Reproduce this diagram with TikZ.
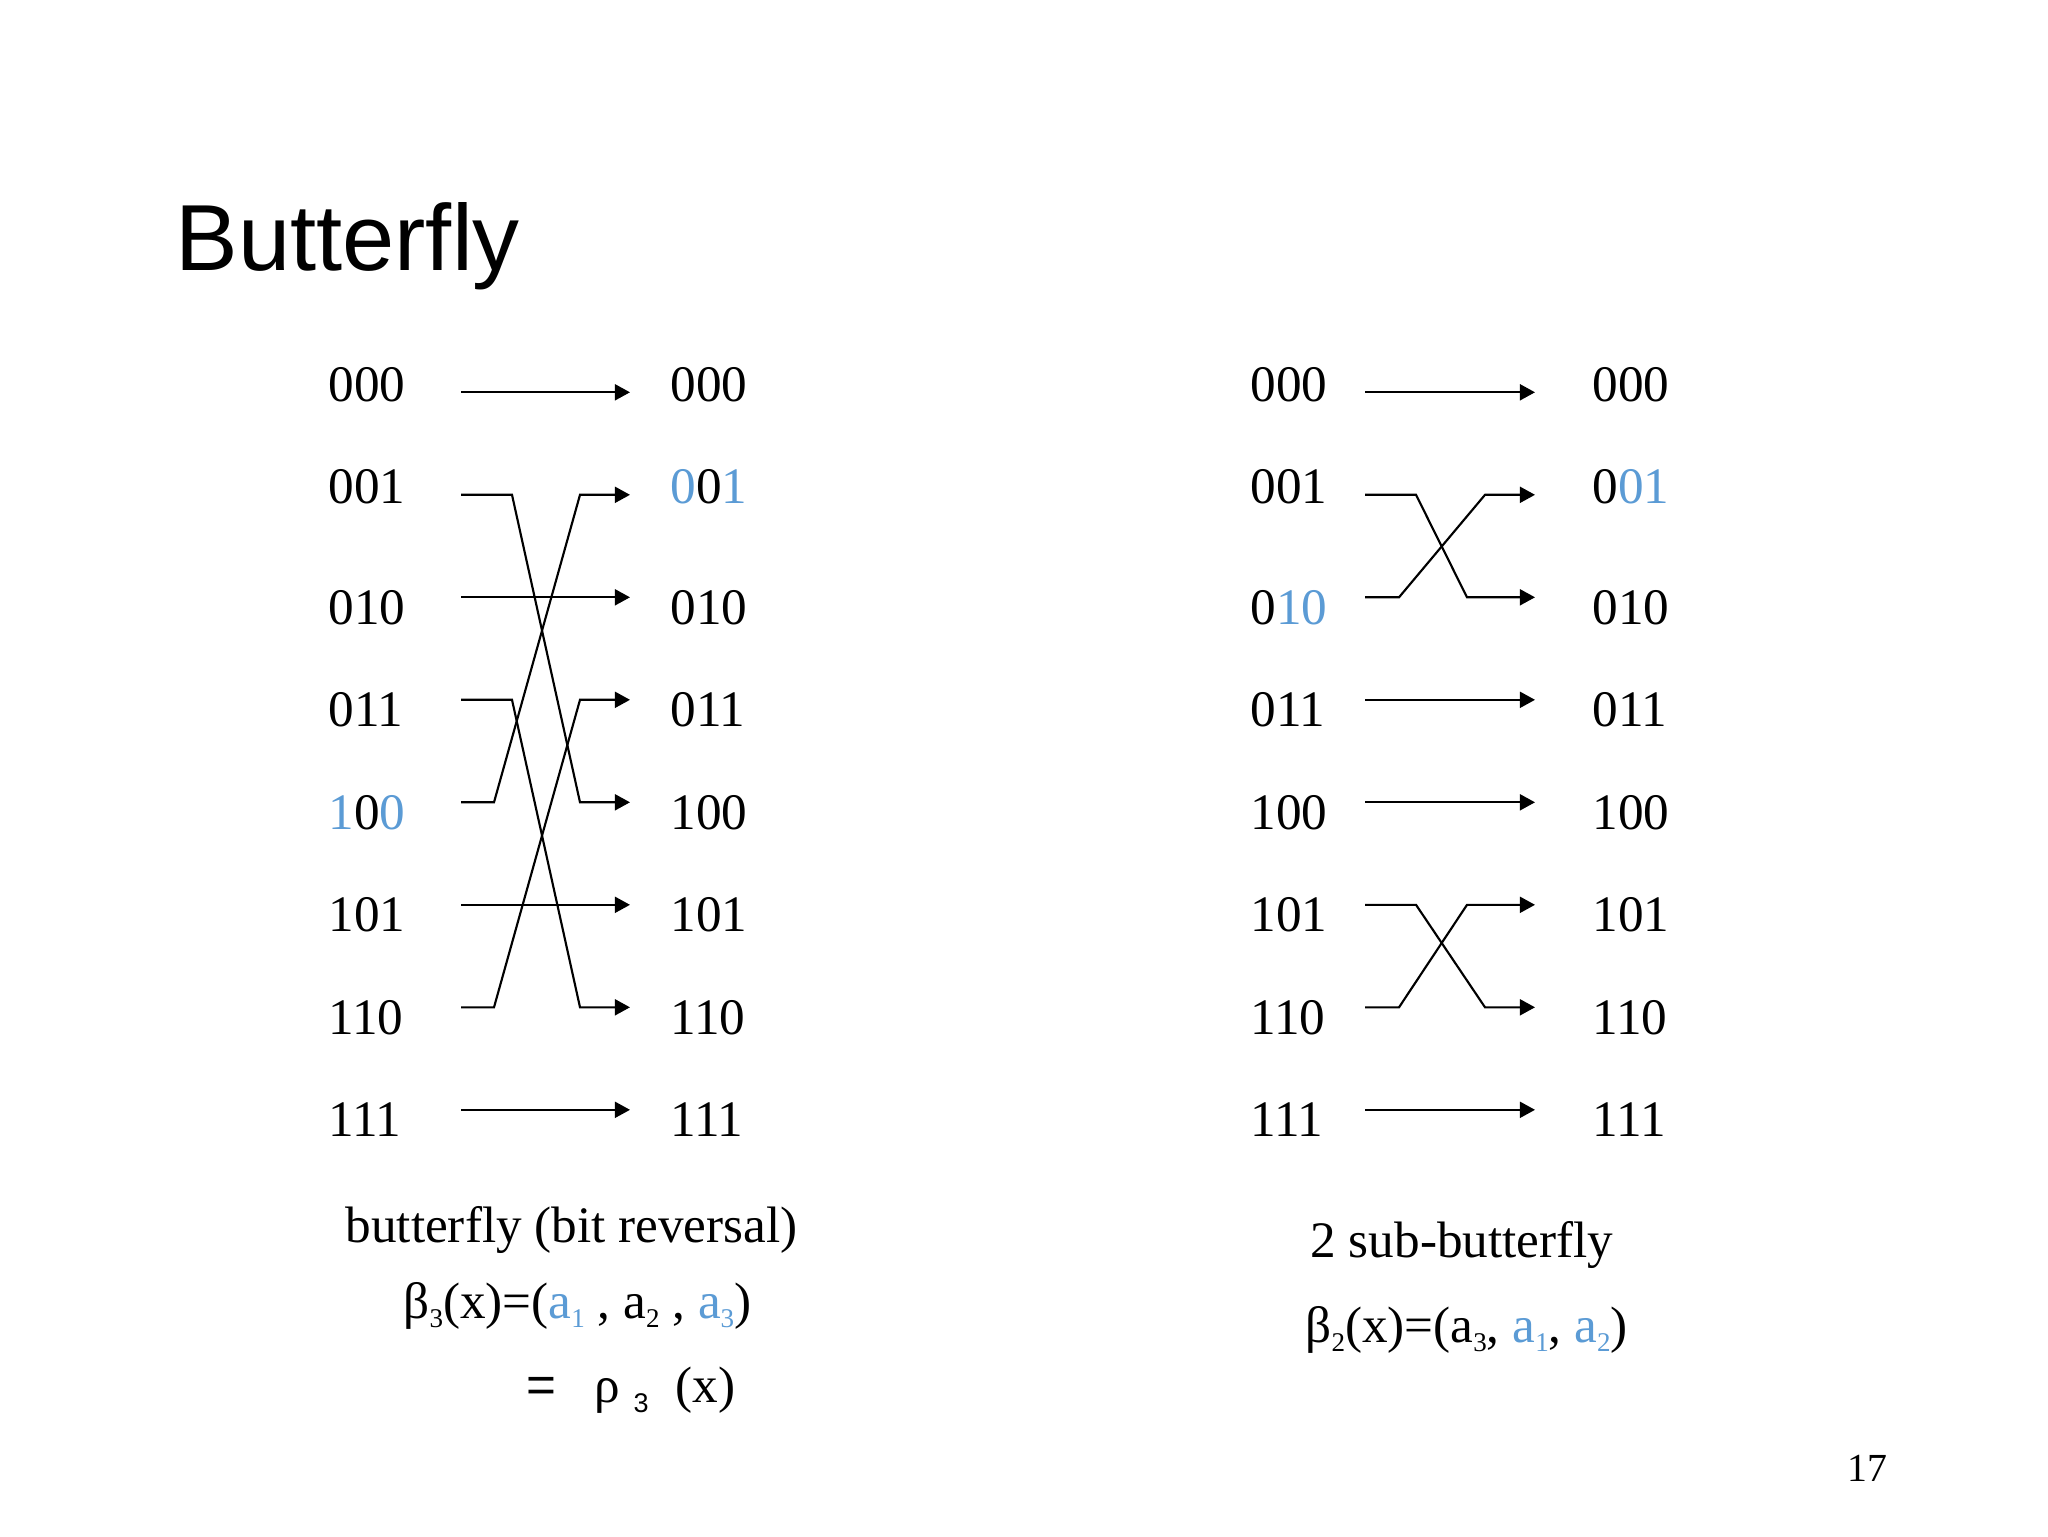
\documentclass[tikz,border=0pt]{standalone}
\usepackage{fontspec}
\setmainfont{Liberation Serif}
\newfontfamily\sansf{Liberation Sans}
\usetikzlibrary{arrows.meta}
\definecolor{hl}{HTML}{5B9BD5}
\newcommand\lsub[1]{\raisebox{-3.3pt}{\fontsize{9.5pt}{9.5pt}\selectfont #1}}
\newcommand\hb[1]{\textcolor{hl}{#1}}
\begin{document}
\begin{tikzpicture}[x=0.3516pt,y=-0.3516pt,
  lab/.style={anchor=base west, inner sep=0pt, font=\fontsize{18pt}{18pt}\selectfont},
  wire/.style={line width=0.75pt, -{Triangle[length=5.3pt,width=5.6pt]}}]
\useasboundingbox[fill=white] (0,0) rectangle (2048,1536);

% title and page number
\node[anchor=base west, inner sep=0pt, font=\sansf\fontsize{33pt}{33pt}\selectfont] (title) at (175,270) {Butterfly};
\node[anchor=base east, inner sep=0pt, font=\fontsize{14pt}{14pt}\selectfont] (page) at (1888,1481) {17};

% ---------- left network ----------
\foreach \i/\t in {0/000,1/001,2/010,3/011,4/{\hb{1}0\hb{0}},5/101,6/110,7/111} {
  \pgfmathsetmacro\yy{392.3+102.5*\i}
  \pgfmathsetmacro\off{\i<2 ? 9 : 27}
  \node[lab] (La\i) at (328,\yy+\off) {\t};
  \coordinate (Lai\i) at (461,\yy);
}
\foreach \i/\t in {0/000,1/{\hb{0}0\hb{1}},2/010,3/011,4/100,5/101,6/110,7/111} {
  \pgfmathsetmacro\yy{392.3+102.5*\i}
  \pgfmathsetmacro\off{\i<2 ? 9 : 27}
  \node[lab] (Lb\i) at (670,\yy+\off) {\t};
  \coordinate (Lbo\i) at (630,\yy);
}
\coordinate (xA) at (512,0);
\coordinate (xB) at (494,0);
\coordinate (xC) at (580,0);
\foreach \i in {0,2,5,7} \draw[wire] (Lai\i) -- (Lbo\i);
\draw[wire] (Lai1) -- (Lai1 -| xA) -- (Lbo4 -| xC) -- (Lbo4);
\draw[wire] (Lai3) -- (Lai3 -| xA) -- (Lbo6 -| xC) -- (Lbo6);
\draw[wire] (Lai4) -- (Lai4 -| xB) -- (Lbo1 -| xC) -- (Lbo1);
\draw[wire] (Lai6) -- (Lai6 -| xB) -- (Lbo3 -| xC) -- (Lbo3);

% ---------- right network ----------
\foreach \i/\t in {0/000,1/001,2/{0\hb{10}},3/011,4/100,5/101,6/110,7/111} {
  \pgfmathsetmacro\yy{392.3+102.5*\i}
  \pgfmathsetmacro\off{\i<2 ? 9 : 27}
  \node[lab] (Ra\i) at (1250,\yy+\off) {\t};
  \coordinate (Rai\i) at (1365,\yy);
}
\foreach \i/\t in {0/000,1/{0\hb{01}},2/010,3/011,4/100,5/101,6/110,7/111} {
  \pgfmathsetmacro\yy{392.3+102.5*\i}
  \pgfmathsetmacro\off{\i<2 ? 9 : 27}
  \node[lab] (Rb\i) at (1592,\yy+\off) {\t};
  \coordinate (Rbo\i) at (1535,\yy);
}
\coordinate (xD) at (1416,0);
\coordinate (xE) at (1399,0);
\coordinate (xF) at (1467,0);
\coordinate (xG) at (1485,0);
\foreach \i in {0,3,4,7} \draw[wire] (Rai\i) -- (Rbo\i);
\draw[wire] (Rai1) -- (Rai1 -| xD) -- (Rbo2 -| xF) -- (Rbo2);
\draw[wire] (Rai2) -- (Rai2 -| xE) -- (Rbo1 -| xG) -- (Rbo1);
\draw[wire] (Rai5) -- (Rai5 -| xD) -- (Rbo6 -| xG) -- (Rbo6);
\draw[wire] (Rai6) -- (Rai6 -| xE) -- (Rbo5 -| xF) -- (Rbo5);

% ---------- captions ----------
\node[lab] (capL) at (345,1242) {butterfly (bit reversal)};
\node[lab] (betaL) at (403,1318) {β\lsub{3}(x)=(\hb{a\lsub{1}} , a\lsub{2} , \hb{a\lsub{3}})};
\node[lab, font=\sansf\fontsize{18pt}{18pt}\selectfont] (eq) at (526,1402) {=};
\node[lab] (rho) at (594,1402) {ρ};
\node[lab, font=\sansf\fontsize{9.5pt}{9.5pt}\selectfont] (rsub) at (633,1412) {3};
\node[lab] (px) at (675,1402) {(x)};

\node[lab] (capR) at (1310,1257) {2 sub-butterfly};
\node[lab] (betaR) at (1305,1342) {β\lsub{2}(x)=(a\lsub{3}, \hb{a\lsub{1}}, \hb{a\lsub{2}})};
\end{tikzpicture}
\end{document}
